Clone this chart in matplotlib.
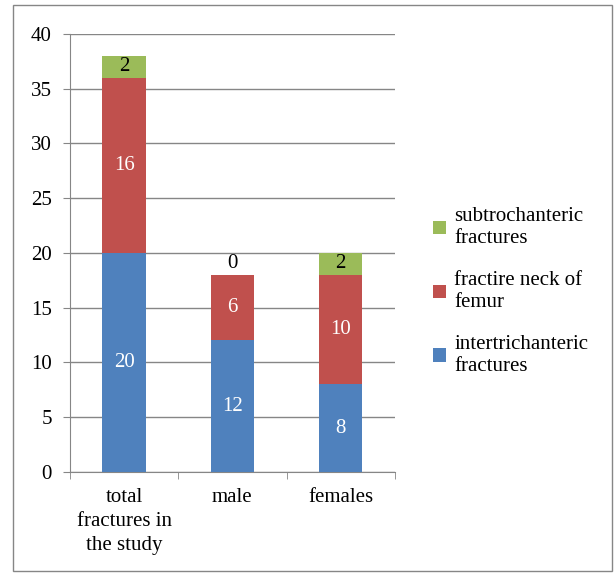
import numpy as np
import matplotlib.pyplot as plt
from matplotlib.patches import Rectangle

plt.rcParams['font.family'] = ['Liberation Serif', 'DejaVu Serif']

# data
categories = ["total\nfractures in\nthe study", "male", "females"]
intertrochanteric = [20, 12, 8]
neck_of_femur = [16, 6, 10]
subtrochanteric = [2, 0, 2]

series = [
    (intertrochanteric, "intertrichanteric\nfractures", "#4F81BD", "white"),
    (neck_of_femur, "fractire neck of\nfemur", "#C0504D", "white"),
    (subtrochanteric, "subtrochanteric\nfractures", "#9BBB59", "black"),
]

fs = 15

fig = plt.figure(figsize=(6.14, 5.74), dpi=100)
ax = fig.add_axes([0.114, 0.178, 0.529, 0.763])

x = np.arange(len(categories))
bottom = np.zeros(len(categories))
handles = []
for vals, label, color, txtcolor in series:
    vals = np.array(vals, dtype=float)
    b = ax.bar(x, vals, 0.4, bottom=bottom, color=color, label=label, zorder=3)
    handles.append(b)
    for xi, v, bt in zip(x, vals, bottom):
        if v == 0:
            ax.text(xi, bt + 0.2, "0", ha="center", va="bottom", fontsize=fs, color="black", zorder=4)
        else:
            ax.text(xi, bt + v / 2, str(int(v)), ha="center", va="center",
                    fontsize=fs, color=txtcolor, zorder=4)
    bottom = bottom + vals

ax.set_xlim(-0.5, 2.5)
ax.set_ylim(0, 40)
ax.set_yticks(np.arange(0, 41, 5))
ax.set_xticks(x)
ax.set_xticklabels(categories, fontsize=fs, linespacing=1.35)
ax.tick_params(axis="y", labelsize=fs, length=5, color="#868686", pad=8)
ax.tick_params(axis="x", length=0, pad=12)
ax.set_xticks([-0.5, 0.5, 1.5, 2.5], minor=True)
ax.tick_params(axis="x", which="minor", length=5, color="#868686")
ax.grid(axis="y", color="#868686", linewidth=1, zorder=0)
for side in ["top", "right"]:
    ax.spines[side].set_visible(False)
ax.spines["left"].set_color("#868686")
ax.spines["bottom"].set_color("#868686")

fig.legend(handles[::-1], [s[1] for s in series][::-1], loc="center left",
           bbox_to_anchor=(0.706, 0.492), frameon=False, fontsize=fs,
           handlelength=0.6, handleheight=0.6, handletextpad=0.4,
           labelspacing=1.1, borderpad=0, borderaxespad=0)

fig.add_artist(Rectangle((0.021, 0.005), 0.976, 0.986, transform=fig.transFigure,
                         fill=False, edgecolor="#868686", linewidth=1))

fig.savefig("out.png", dpi=100)
